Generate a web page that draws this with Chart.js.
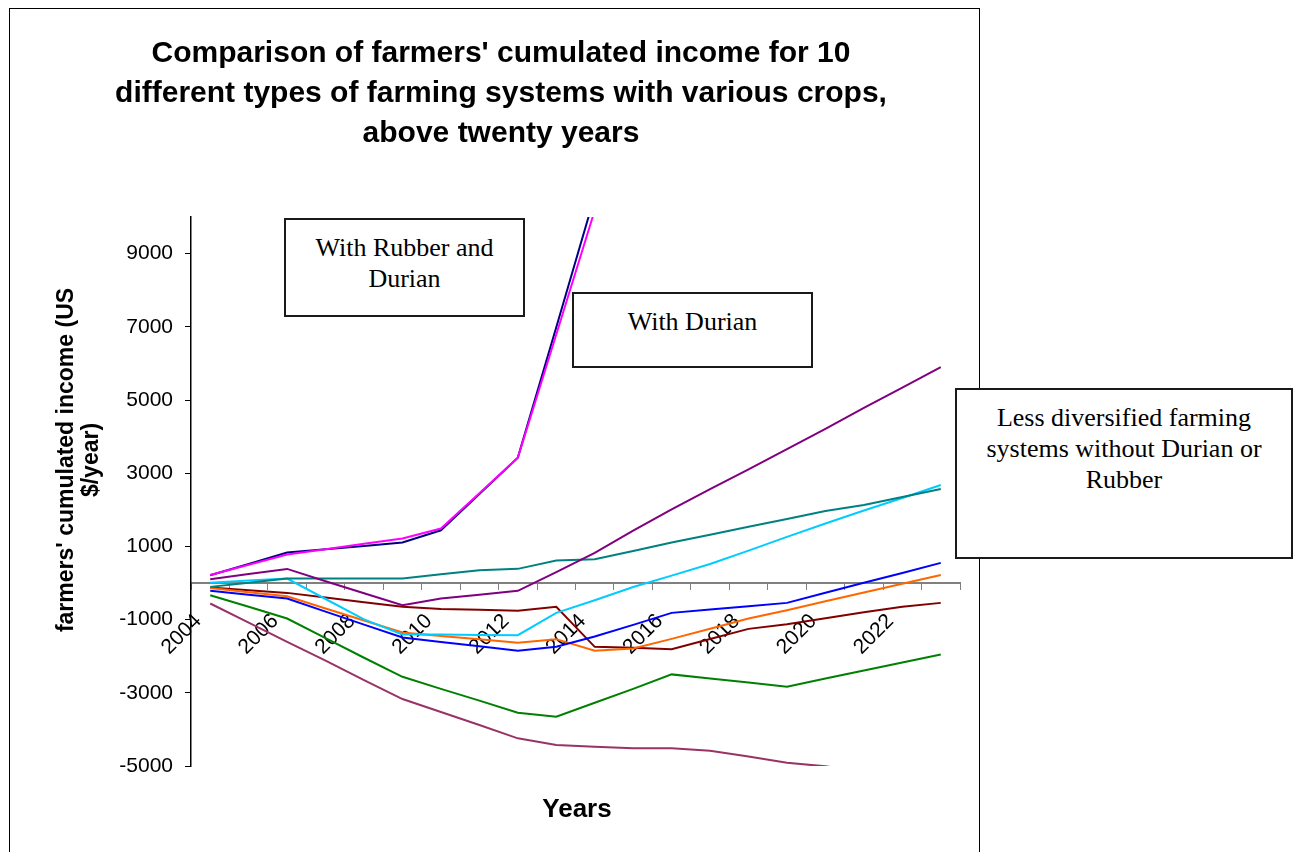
<!DOCTYPE html>
<html>
<head>
<meta charset="utf-8">
<title>Farmers' cumulated income</title>
<script src="https://cdn.jsdelivr.net/npm/chart.js@4"></script>
<style>
  body { margin: 0; width: 1298px; height: 852px; overflow: hidden; background: #fff; position: relative; font-family: "Liberation Sans", Arial, sans-serif; }
  #frame { position: absolute; left: 9px; top: 8px; width: 971px; height: 900px; border: 1px solid #000; box-sizing: border-box; }
  #wrap { position: absolute; left: 0; top: 0; width: 1298px; height: 852px; }
  #title { position: absolute; left: 0; top: 32px; width: 1002px; text-align: center; font: bold 30px/40px "Liberation Sans", Arial, sans-serif; }
  #ytitle { position: absolute; left: -122.5px; top: 435px; width: 400px; height: 50px; transform: rotate(-90deg); text-align: center; font: bold 23px/25px "Liberation Sans", Arial, sans-serif; }
  #xtitle { position: absolute; left: 477px; top: 793px; width: 200px; height: 30px; text-align: center; font: bold 26px/30px "Liberation Sans", Arial, sans-serif; }
  .box { position: absolute; box-sizing: border-box; border: 2px solid #1a1a1a; background: #fff; text-align: center; font: 26px/31px "Liberation Serif", "Times New Roman", serif; padding-top: 12px; }
</style>
</head>
<body>
<div id="frame"></div>
<div id="wrap"><canvas id="grafico"></canvas></div>
<div id="title">Comparison of farmers' cumulated income for 10<br>different types of farming systems with various crops,<br>above twenty years</div>
<div id="ytitle">farmers' cumulated income (US<br>$/year)</div>
<div id="xtitle">Years</div>
<div class="box" style="left:284px;top:218px;width:241px;height:99px;">With Rubber and<br>Durian</div>
<div class="box" style="left:572px;top:292px;width:241px;height:76px;">With Durian</div>
<div class="box" style="left:955px;top:388px;width:338px;height:171px;">Less diversified farming<br>systems without Durian or<br>Rubber</div>

<script>
// Datos
const years = ['2004', '2005', '2006', '2007', '2008', '2009', '2010', '2011', '2012', '2013',
  '2014', '2015', '2016', '2017', '2018', '2019', '2020', '2021', '2022', '2023'];
const yTicks = [-5000, -3000, -1000, 1000, 3000, 5000, 7000, 9000];

const rubberDurianA = [213, 520, 832, 920, 1010, 1105, 1441, 2430, 3425, 6990, 10580, 14000, 17500, 21000, 24500, 28000, 31500, 35000, 38500, 42000];
const rubberDurianB = [220, 500, 778, 925, 1070, 1214, 1487, 2450, 3425, 6790, 10180, 13500, 17000, 20500, 24000, 27500, 31000, 34500, 38000, 41500];
const durian = [104, 245, 385, 49, -278, -606, -424, -320, -215, 297, 824, 1430, 2010, 2565, 3106, 3657, 4211, 4787, 5336, 5898];
const systemTeal = [-106, 8, 122, 122, 122, 122, 240, 349, 386, 614, 650, 877, 1105, 1320, 1535, 1750, 1968, 2131, 2350, 2568];
const systemCyan = [10, 66, 122, -437, -994, -1406, -1410, -1420, -1425, -816, -470, -109, 202, 521, 884, 1261, 1624, 1979, 2323, 2677];
const systemBlue = [-215, -320, -424, -783, -1138, -1488, -1610, -1730, -1853, -1744, -1463, -1143, -816, -726, -636, -543, -265, 5, 273, 549];
const systemOrange = [-134, -250, -360, -697, -1026, -1351, -1446, -1540, -1635, -1534, -1853, -1788, -1526, -1250, -969, -742, -497, -259, -22, 221];
const systemDarkRed = [-123, -195, -270, -398, -527, -652, -707, -734, -761, -652, -1744, -1766, -1807, -1528, -1253, -1124, -961, -802, -650, -543];
const systemGreen = [-333, -650, -970, -1507, -2042, -2563, -2893, -3213, -3546, -3655, -3272, -2893, -2497, -2609, -2721, -2836, -2609, -2391, -2173, -1952];
const systemPlum = [-560, -1083, -1607, -2123, -2653, -3171, -3526, -3881, -4244, -4427, -4471, -4517, -4517, -4582, -4743, -4910, -5010, -5150, -5280, -5400];

const series = [
  { label: 'Rubber and Durian 2', data: rubberDurianB, color: '#FF00FF' },
  { label: 'Rubber and Durian 1', data: rubberDurianA, color: '#000080' },
  { label: 'Durian', data: durian, color: '#800080' },
  { label: 'System 4', data: systemTeal, color: '#008080' },
  { label: 'System 5', data: systemCyan, color: '#00CCFF' },
  { label: 'System 6', data: systemBlue, color: '#0000FF' },
  { label: 'System 7', data: systemOrange, color: '#FF6600' },
  { label: 'System 8', data: systemDarkRed, color: '#800000' },
  { label: 'System 9', data: systemGreen, color: '#008000' },
  { label: 'System 10', data: systemPlum, color: '#993366' }
];

const tickFont = { family: '"Liberation Sans", Arial, sans-serif', size: 21 };

const ctx = document.getElementById('grafico').getContext('2d');
const grafico = new Chart(ctx, {
  type: 'line',
  data: {
    labels: years,
    datasets: series.map(s => ({
      label: s.label,
      data: s.data,
      borderColor: s.color,
      backgroundColor: s.color,
      borderWidth: 2,
      pointRadius: 0,
      tension: 0,
      fill: false
    }))
  },
  options: {
    responsive: true,
    maintainAspectRatio: false,
    animation: false,
    layout: { padding: { left: 0, top: 217, right: 338, bottom: 86 } },
    plugins: {
      legend: { display: false },
      tooltip: { enabled: false }
    },
    scales: {
      x: {
        type: 'category',
        position: { y: 0 },
        offset: true,
        grid: { offset: true, drawOnChartArea: false, drawTicks: true, tickLength: 6, color: '#808080' },
        border: { color: '#808080', width: 2 },
        ticks: {
          autoSkip: false,
          minRotation: 45,
          maxRotation: 45,
          padding: 20,
          labelOffset: -12,
          color: '#000',
          font: tickFont,
          callback: function (value, index) {
            return index % 2 === 0 ? this.getLabelForValue(value) : '';
          }
        }
      },
      y: {
        min: -5000,
        max: 10000,
        afterBuildTicks: function (scale) {
          scale.ticks = yTicks.map(v => ({ value: v }));
        },
        afterFit: function (scale) {
          scale.width = 191;
        },
        grid: { drawOnChartArea: false, drawTicks: true, tickLength: 6, color: '#000' },
        border: { color: '#000', width: 1.5 },
        ticks: {
          padding: 12,
          color: '#000',
          font: tickFont,
          callback: function (value) {
            return String(value);
          }
        }
      }
    }
  }
});
</script>
</body>
</html>
